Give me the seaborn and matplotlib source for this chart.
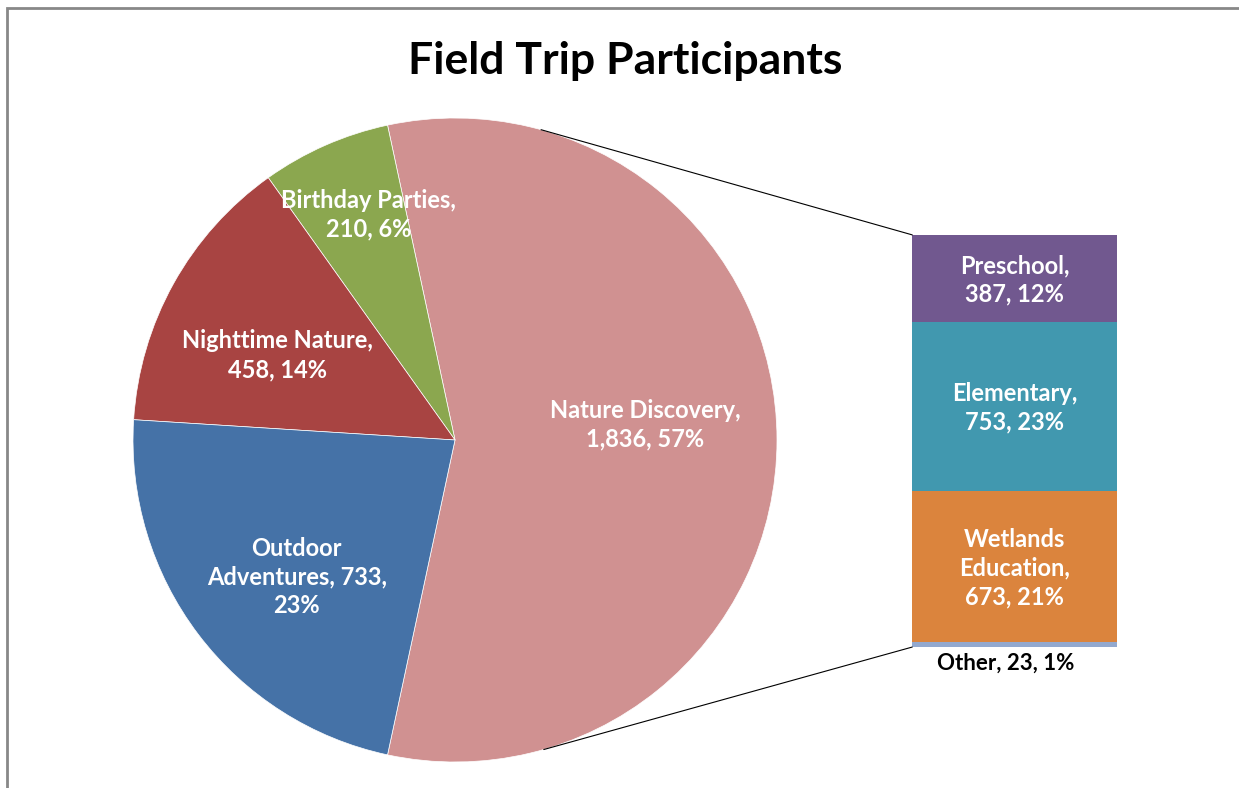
import numpy as np
import matplotlib
matplotlib.use("Agg")
import matplotlib.pyplot as plt
import seaborn as sns
from matplotlib.patches import Rectangle

# data
pie_labels = ["Nature Discovery", "Birthday Parties", "Nighttime Nature", "Outdoor Adventures"]
pie_values = [1836, 210, 458, 733]
bar_labels = ["Other", "Wetlands Education", "Elementary", "Preschool"]
bar_values = [23, 673, 753, 387]

pie_colors = ["#D09191", "#8BA74F", "#A84442", "#4572A7"]
bar_colors = ["#93A9CF", "#DB843D", "#4198AF", "#71588F"]

sns.set_style("white")
plt.rcParams['font.family'] = ['Lato', 'DejaVu Sans']

total = sum(pie_values)
fig = plt.figure(figsize=(12.39, 7.88), dpi=100)
ax = fig.add_axes([0, 0, 1, 1])

# pie: first slice centred on the right side, facing the bar
start = -180 * pie_values[0] / total
wedges, _ = ax.pie(pie_values, colors=sns.color_palette(pie_colors), startangle=start,
                   counterclock=True, radius=1,
                   wedgeprops=dict(edgecolor="white", linewidth=0.5))

pie_texts = ["Nature Discovery,\n{:,}, {}%", "Birthday Parties,\n{:,}, {}%",
             "Nighttime Nature,\n{:,}, {}%", "Outdoor\nAdventures, {:,},\n{}%"]
label_r = [0.592, 0.749, 0.612, 0.65]
label_dang = [4.5, -2.7, 3.6, 3.7]
for w, txt, v, r, da in zip(wedges, pie_texts, pie_values, label_r, label_dang):
    mid = np.deg2rad((w.theta1 + w.theta2) / 2 + da)
    ax.text(r * np.cos(mid), r * np.sin(mid), txt.format(v, round(100 * v / total)),
            ha="center", va="center", color="white", fontsize=17, fontweight="bold",
            linespacing=1.3)

# stacked bar of the breakdown
bar_x, bar_w = 1.42, 0.637
bar_bottom = -0.643
scale = 1.28 / sum(bar_values)
bottoms = bar_bottom + scale * np.concatenate([[0], np.cumsum(bar_values)[:-1]])
heights = scale * np.array(bar_values)
ax.bar([bar_x] * len(bar_values), heights, width=bar_w, bottom=bottoms,
       align="edge", color=bar_colors, linewidth=0)

bar_texts = ["Other, {}, {}%", "Wetlands\nEducation,\n{}, {}%", "Elementary,\n{}, {}%",
             "Preschool,\n{}, {}%"]
for i, (txt, v) in enumerate(zip(bar_texts, bar_values)):
    s = txt.format(v, round(100 * v / total))
    if i == 0:
        ax.text(bar_x + bar_w / 2 - 0.028, bottoms[0] - 0.05, s, ha="center", va="center",
                color="black", fontsize=16, fontweight="bold")
    else:
        ax.text(bar_x + bar_w / 2, bottoms[i] + heights[i] / 2 - 0.005, s, ha="center",
                va="center", color="white", fontsize=17, fontweight="bold", linespacing=1.3)

# connector lines from pie to bar
top_ang, bot_ang = np.deg2rad(74.5), np.deg2rad(-74.0)
ax.plot([np.cos(top_ang), bar_x], [np.sin(top_ang), bottoms[-1] + heights[-1]],
        color="black", linewidth=0.8)
ax.plot([np.cos(bot_ang), bar_x], [np.sin(bot_ang), bar_bottom], color="black", linewidth=0.8)

ax.set_xlim(-455 / 322, (1239 - 455) / 322)
ax.set_ylim(-(788 - 440) / 322, 440 / 322)
ax.set_aspect("equal", adjustable="datalim")
ax.axis("off")

fig.text(625 / 1239, 1 - 61 / 788, "Field Trip Participants", ha="center", va="center",
         fontsize=32, fontweight="bold", color="black")

# chart area border (top and left visible)
fig.patches.append(Rectangle((7 / 1239, -0.1), 1.2, 1 - 8 / 788 + 0.1, transform=fig.transFigure,
                             fill=False, edgecolor="#888888", linewidth=2))

fig.savefig("out.png", dpi=100)
